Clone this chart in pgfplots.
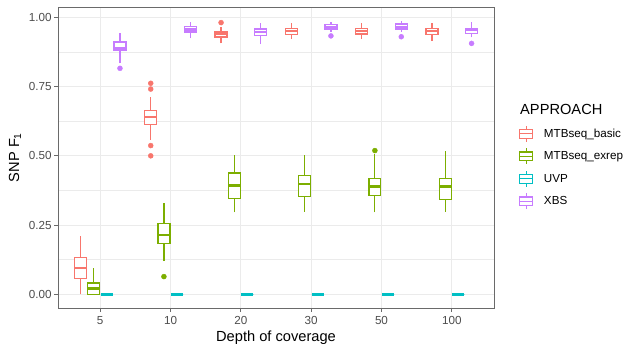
\documentclass[border=0pt]{standalone}
\usepackage{pgfplots}
\pgfplotsset{compat=1.18}
\usepackage{fontspec}
\setmainfont{Liberation Sans}
\definecolor{cR}{HTML}{F8766D}
\definecolor{cG}{HTML}{7CAE00}
\definecolor{cC}{HTML}{00BFC4}
\definecolor{cP}{HTML}{C77CFF}
\definecolor{g20}{HTML}{6A6A6A}
\definecolor{g30}{HTML}{4D4D4D}
\definecolor{g92}{HTML}{EBEBEB}
% #1 colour, #2 left, #3 centre, #4 right, #5 lower whisker, #6 lower quartile, #7 median, #8 upper quartile, #9 upper whisker
\newcommand{\bx}[9]{%
  \addplot[#1, line width=1.2bp, forget plot] coordinates {(#3,#5) (#3,#6)};
  \addplot[#1, line width=1.2bp, forget plot] coordinates {(#3,#8) (#3,#9)};
  \addplot[#1, line width=1.2bp, fill=white, forget plot] coordinates {(#2,#6) (#4,#6) (#4,#8) (#2,#8)} -- cycle;
  \addplot[#1, line width=2.5bp, forget plot] coordinates {(#2,#7) (#4,#7)};}
\begin{document}
\begin{tikzpicture}
\begin{axis}[
  name=ax,
  at={(58bp,36bp)}, anchor=south west,
  scale only axis, width=436bp, height=301bp,
  xmin=0.4, xmax=6.6, ymin=-0.0494, ymax=1.0374,
  xtick={1,2,3,4,5,6}, xticklabels={5,10,20,30,50,100},
  ytick={0,0.25,0.5,0.75,1}, yticklabels={0.00,0.25,0.50,0.75,1.00},
  minor ytick={0.125,0.375,0.625,0.875},
  xmajorgrids, ymajorgrids, yminorgrids,
  major grid style={color=g92, line width=1bp},
  minor grid style={color=g92, line width=0.5bp},
  tick align=outside, tick pos=left,
  major tick length=3.7bp, minor tick length=0bp,
  tick style={color=g20, line width=0.9bp},
  axis line style={color=g20, line width=0.9bp},
  ticklabel style={font=\fontsize{11.7}{12}\selectfont, text=g30},
  yticklabel style={anchor=east, inner sep=0pt, xshift=-2.6bp},
  xticklabel style={anchor=base, inner sep=0pt, yshift=-12.3bp},
  /pgf/number format/assume math mode=true,
  xlabel={Depth of coverage},
  ylabel={SNP F\textsubscript{1}},
  every axis x label/.style={at={(axis description cs:0.5,-0.111)}, anchor=base, font=\fontsize{14.7}{15}\selectfont},
  every axis y label/.style={at={(axis description cs:-0.0894,0.5)}, anchor=base, rotate=90, font=\fontsize{14.7}{15}\selectfont},
  legend style={at={(axis description cs:1.058,0.607)}, anchor=north west,
    draw=none, fill=none, inner sep=0pt, outer sep=0pt,
    font=\fontsize{11.7}{12}\selectfont, column sep=11bp, row sep=5.3bp,
    nodes={inner sep=0pt}},
  legend cell align=left,
  legend image code/.code={%
    \draw[line width=1.2bp, fill=white] (0bp,-4.3bp) rectangle (12.5bp,4.3bp);
    \draw[line width=1.2bp] (0bp,0bp) -- (12.5bp,0bp);
    \draw[line width=1.2bp] (6.25bp,4.3bp) -- (6.25bp,8bp);
    \draw[line width=1.2bp] (6.25bp,-4.3bp) -- (6.25bp,-8bp);},
]
% depth 5
\bx{cR}{0.63375}{0.71875}{0.80375}{0}{0.057}{0.095}{0.134}{0.212}
\bx{cG}{0.82125}{0.90625}{0.99125}{0}{0}{0.021}{0.041}{0.096}
\bx{cC}{1.00875}{1.09375}{1.17875}{0}{0}{0}{0}{0}
\bx{cP}{1.19625}{1.28125}{1.36625}{0.834}{0.879}{0.888}{0.911}{0.942}
% depth 10
\bx{cR}{1.63375}{1.71875}{1.80375}{0.558}{0.612}{0.640}{0.665}{0.714}
\bx{cG}{1.82125}{1.90625}{1.99125}{0.120}{0.184}{0.214}{0.256}{0.328}
\bx{cC}{2.00875}{2.09375}{2.17875}{0}{0}{0}{0}{0}
\bx{cP}{2.19625}{2.28125}{2.36625}{0.924}{0.947}{0.957}{0.968}{0.983}
% depth 20
\bx{cR}{2.63375}{2.71875}{2.80375}{0.906}{0.929}{0.941}{0.950}{0.966}
\bx{cG}{2.82125}{2.90625}{2.99125}{0.296}{0.347}{0.393}{0.438}{0.504}
\bx{cC}{3.00875}{3.09375}{3.17875}{0}{0}{0}{0}{0}
\bx{cP}{3.19625}{3.28125}{3.36625}{0.903}{0.935}{0.947}{0.958}{0.978}
% depth 30
\bx{cR}{3.63375}{3.71875}{3.80375}{0.921}{0.937}{0.950}{0.960}{0.978}
\bx{cG}{3.82125}{3.90625}{3.99125}{0.298}{0.352}{0.399}{0.430}{0.504}
\bx{cC}{4.00875}{4.09375}{4.17875}{0}{0}{0}{0}{0}
\bx{cP}{4.19625}{4.28125}{4.36625}{0.948}{0.958}{0.966}{0.973}{0.983}
% depth 50
\bx{cR}{4.63375}{4.71875}{4.80375}{0.921}{0.940}{0.951}{0.961}{0.978}
\bx{cG}{4.82125}{4.90625}{4.99125}{0.296}{0.357}{0.389}{0.417}{0.508}
\bx{cC}{5.00875}{5.09375}{5.17875}{0}{0}{0}{0}{0}
\bx{cP}{5.19625}{5.28125}{5.36625}{0.948}{0.958}{0.966}{0.976}{0.988}
% depth 100
\bx{cR}{5.63375}{5.71875}{5.80375}{0.914}{0.938}{0.951}{0.960}{0.978}
\bx{cG}{5.82125}{5.90625}{5.99125}{0.298}{0.342}{0.389}{0.417}{0.516}
\bx{cC}{6.00875}{6.09375}{6.17875}{0}{0}{0}{0}{0}
\bx{cP}{6.19625}{6.28125}{6.36625}{0.928}{0.942}{0.954}{0.961}{0.983}
% outliers
\addplot[only marks, mark=*, mark size=2.5bp, color=cR, forget plot] coordinates {
  (1.71875,0.762) (1.71875,0.741) (1.71875,0.537) (1.71875,0.500) (2.71875,0.981)};
\addplot[only marks, mark=*, mark size=2.5bp, color=cG, forget plot] coordinates {
  (1.90625,0.064) (4.90625,0.519)};
\addplot[only marks, mark=*, mark size=2.5bp, color=cP, forget plot] coordinates {
  (1.28125,0.816) (4.28125,0.933) (5.28125,0.930) (6.28125,0.906)};
% legend
\addlegendimage{cR}\addlegendentry{MTBseq\_basic}
\addlegendimage{cG}\addlegendentry{MTBseq\_exrep}
\addlegendimage{cC}\addlegendentry{UVP}
\addlegendimage{cP}\addlegendentry{XBS}
\end{axis}
\node[anchor=base west, font=\fontsize{14.7}{15}\selectfont] at (516.7bp,229bp) {APPROACH};
\pgfresetboundingbox
\useasboundingbox (0,0) rectangle (627bp,344bp);
\end{tikzpicture}
\end{document}
